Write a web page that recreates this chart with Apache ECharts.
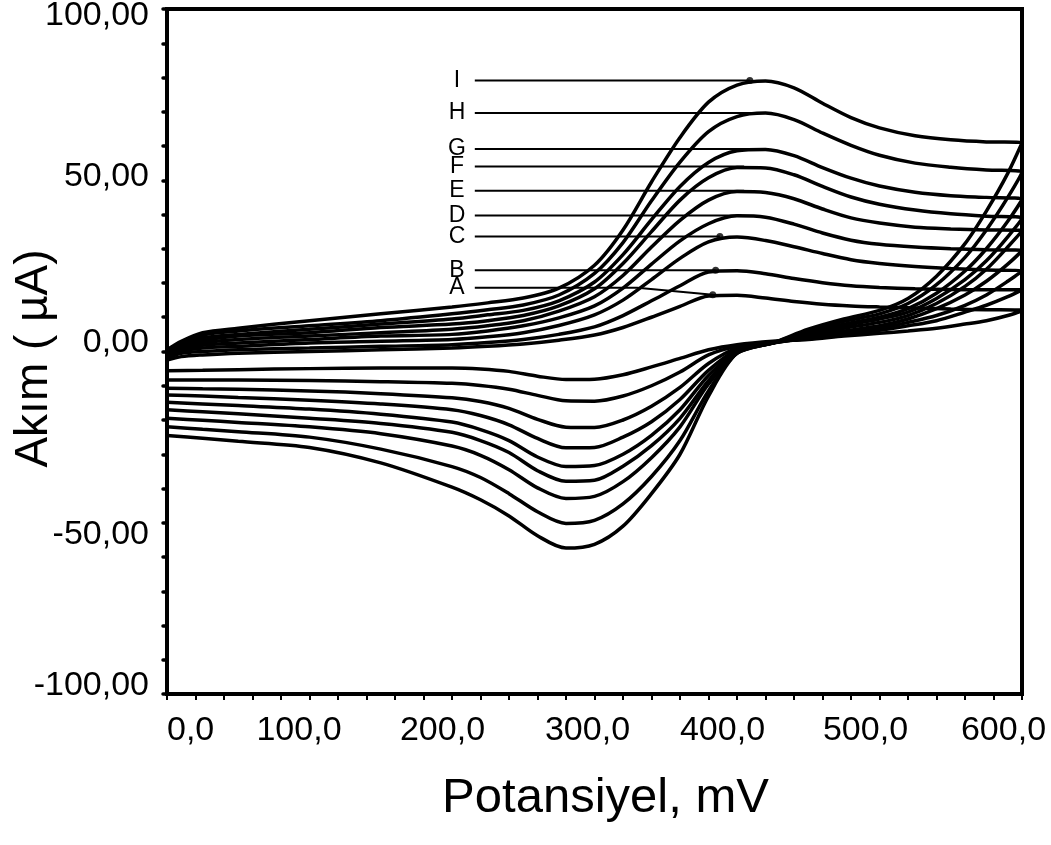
<!DOCTYPE html>
<html>
<head>
<meta charset="utf-8">
<script src="https://cdn.jsdelivr.net/npm/echarts@6/dist/echarts.min.js"></script>
<style>
html,body{margin:0;padding:0;background:#fff;}
#chart{width:1051px;height:845px;}
</style>
</head>
<body>
<div id="chart"></div>
<script>
// Potential grids (mV)
const potentialFwd = [0, 10, 25, 50, 100, 150, 200, 225, 250, 275, 300, 320, 340, 360, 380, 400, 420, 440, 460, 480, 500, 525, 550, 575, 600];
const potentialRev = [590, 575, 560, 540, 520, 500, 475, 450, 425, 400, 380, 360, 340, 320, 300, 280, 260, 240, 220, 200, 150, 100, 50, 25, 0];

const curveNames = ['A', 'B', 'C', 'D', 'E', 'F', 'G', 'H', 'I'];

// Forward (anodic) scan currents, µA
const fwdA = [-2.5, -1.5, -1, -0.5, 0, 0.5, 1, 1.5, 2.2, 3.3, 4.8, 7, 10, 13.2, 16.2, 16.4, 15.6, 14.6, 13.8, 13.3, 13, 12.7, 12.4, 12.2, 12];
const fwdB = [-2, -0.5, 0, 0.5, 1, 1.5, 2, 2.6, 3.5, 5, 7.2, 10.5, 14.8, 19.2, 23.2, 23.6, 22.7, 21.3, 20.1, 19.2, 18.7, 18.3, 18.1, 18, 18];
const fwdC = [-1.5, 0, 1, 1.5, 2.5, 3, 3.5, 4.3, 5.5, 7.6, 10.7, 15, 21, 27.2, 32, 33.4, 32.4, 30.6, 28.6, 26.8, 25.7, 24.8, 24.2, 23.8, 23.5];
const fwdD = [-1, 0.5, 1.8, 2.5, 3.5, 4.5, 5, 6, 7.5, 9.8, 13.3, 18.5, 25.5, 32.3, 37.3, 39.6, 39.2, 37.2, 34.6, 32.5, 31.3, 30.5, 30, 29.7, 29.5];
const fwdE = [-1, 1, 2.5, 3.5, 4.5, 5.5, 6.5, 7.5, 9, 11.8, 16, 22.2, 30.5, 38.3, 44.2, 46.7, 46.4, 44.6, 41.6, 39, 37.5, 36.3, 35.8, 35.5, 35.3];
const fwdF = [-0.5, 1.5, 3.2, 4.5, 5.5, 7, 8, 9, 10.5, 13.3, 18.3, 25.7, 35, 44.2, 50.7, 53.7, 53.6, 51.6, 48.2, 45.1, 43, 41.3, 40.2, 39.5, 39];
const fwdG = [-0.5, 2, 4, 5, 6.5, 8, 9.5, 10.7, 12, 14.8, 20.3, 28.3, 38.5, 48.2, 55.2, 58.6, 59, 57.2, 53.7, 50.6, 48.3, 46.5, 45.5, 45, 44.5];
const fwdH = [0, 2.5, 4.8, 6, 7.5, 9, 11, 12.2, 13.6, 16.5, 22.8, 31.8, 44, 55.3, 64.2, 68.6, 69.6, 67.7, 63.8, 60.2, 57.3, 55, 53.8, 53, 52.5];
const fwdI = [0.5, 3, 5.5, 6.8, 9, 11, 13, 14.2, 15.6, 18.5, 25.2, 35.5, 49.5, 62.5, 72.8, 77.8, 79, 77, 72.5, 68.3, 65.3, 63, 61.8, 61.2, 61];

// Reverse (cathodic) scan currents, µA
const revA = [10.5, 9, 8, 6.8, 6, 5.3, 4.5, 3.5, 3, 2, 0.5, -2, -4.5, -6.8, -8.1, -8.2, -7.2, -5.8, -5.1, -4.8, -4.8, -5, -5.3, -5.5, -5.6];
const revB = [16, 13.5, 11.5, 9, 7.5, 6.2, 5, 3.8, 2.6, 1.5, -1, -6, -10, -13, -14.5, -14.4, -12.8, -11, -9.9, -9.3, -8.8, -8.5, -8.3, -8.3, -8.3];
const revC = [20.5, 16.5, 13.5, 10.5, 8.5, 6.8, 5.5, 4, 2.5, 1, -3.5, -10.5, -16, -20, -22.2, -22.1, -19.8, -16.6, -14.6, -13.5, -12.3, -11.5, -11, -10.9, -10.7];
const revD = [25.5, 20.5, 16.5, 12.5, 9.5, 7.5, 6, 4.2, 2.5, 0.5, -5.5, -14, -20.5, -25, -28, -28.1, -25.4, -21.4, -18.7, -17, -15.3, -14.2, -13.4, -13, -12.7];
const revE = [30.5, 24, 19, 14, 10.5, 8.5, 6.8, 4.6, 2.5, 0, -7, -17, -24.5, -30, -33.3, -33.6, -30.8, -26, -22.8, -20.6, -18.3, -16.8, -15.8, -15.3, -14.8];
const revF = [33.5, 26.5, 21, 15.5, 11.5, 9.5, 7.5, 5, 2.5, 0, -8.5, -19.5, -27.5, -33.5, -37.6, -37.9, -34.8, -29.5, -26, -23.6, -21, -19.5, -18.2, -17.6, -17];
const revG = [38, 30, 23.5, 17, 12.5, 10, 8, 5.5, 2.5, -0.5, -9.5, -22, -31, -38, -42.3, -42.9, -39.8, -34.5, -30.3, -27.6, -24, -22, -20.7, -20.1, -19.5];
const revH = [45, 35.5, 27.5, 19.5, 14, 11, 8.8, 6, 2.5, -0.5, -11.5, -26, -36.5, -44.5, -49.3, -50.2, -46.8, -41.5, -36.8, -33.6, -28.5, -25, -23.4, -22.7, -22];
const revI = [52, 41, 31.5, 22, 15.5, 12, 9.5, 6.5, 2.5, -0.5, -13, -30, -41.5, -51, -56.3, -57.4, -53.8, -48, -43.3, -39.6, -32.5, -28, -26.2, -25.3, -24.5];

// Peak annotations (leader lines)
const leaderNames = ['I', 'H', 'G', 'F', 'E', 'D', 'C', 'B', 'A'];
const leaderLevel = [79.1, 69.6, 59.1, 54.0, 46.9, 39.7, 33.6, 23.7, 18.6];
const leaderEndE = [409, 422, 417, 405, 405, 403, 388, 385, 383];
const leaderEndI = [79.1, 69.6, 59.1, 54.0, 46.9, 39.7, 33.6, 23.7, 16.6];
const leaderKinkE = [null, null, null, null, null, null, null, null, 330];
const leaderDot = [true, false, false, false, false, false, true, true, true];
const leaderStartE = 216;
const leaderTextE = 203.5;

// Axis tick labels
const xTickLabels = {0: '0,0', 100: '100,0', 200: '200,0', 300: '300,0', 400: '400,0', 500: '500,0', 600: '600,0'};
const yTickLabels = {'100': '100,00', '50': '50,00', '0': '0,00', '-50': '-50,00', '-100': '-100,00'};

const fwd = {A: fwdA, B: fwdB, C: fwdC, D: fwdD, E: fwdE, F: fwdF, G: fwdG, H: fwdH, I: fwdI};
const rev = {A: revA, B: revB, C: revC, D: revD, E: revE, F: revF, G: revG, H: revH, I: revI};

const FONT = 'Liberation Sans, Arial, sans-serif';
const series = [];

curveNames.forEach(function (n) {
  const data = [];
  potentialFwd.forEach(function (e, i) { data.push([e, fwd[n][i]]); });
  potentialRev.forEach(function (e, i) { data.push([e, rev[n][i]]); });
  series.push({
    name: n, type: 'line', data: data, showSymbol: false, symbol: 'none',
    smooth: 0.3, lineStyle: {color: '#000', width: 3.5}, z: 2, silent: true
  });
});

const labelData = [];
const dotData = [];
leaderNames.forEach(function (n, i) {
  const d = [[leaderStartE, leaderLevel[i]]];
  if (leaderKinkE[i] !== null) d.push([leaderKinkE[i], leaderLevel[i]]);
  d.push([leaderEndE[i], leaderEndI[i]]);
  series.push({
    type: 'line', data: d, symbol: 'none', smooth: false,
    lineStyle: {color: '#000', width: 2}, z: 3, silent: true
  });
  labelData.push([leaderTextE, leaderLevel[i], n]);
  if (leaderDot[i]) dotData.push([leaderEndE[i], leaderEndI[i]]);
});

series.push({
  type: 'scatter', data: labelData, symbol: 'circle', symbolSize: 1,
  itemStyle: {color: '#fff', opacity: 1},
  label: {show: true, position: 'inside', formatter: function (p) { return p.value[2]; },
    fontFamily: FONT, fontSize: 23, color: '#000', opacity: 1, textBorderWidth: 0},
  z: 4, silent: true
});
series.push({
  type: 'scatter', data: dotData, symbolSize: 7, itemStyle: {color: '#000'}, z: 4, silent: true
});

function tok(pad) { return {fontFamily: FONT, fontSize: 34, color: '#000', padding: pad}; }

const option = {
  animation: false,
  backgroundColor: '#fff',
  grid: {left: 167, right: 29, top: 9, bottom: 151, containLabel: false, outerBoundsMode: 'none',
    show: true, borderColor: '#000', borderWidth: 4, backgroundColor: 'transparent'},
  xAxis: {
    type: 'value', min: 0, max: 600, interval: 20,
    axisLine: {show: true, onZero: false, lineStyle: {color: '#000', width: 4}},
    axisTick: {show: true, length: 6, lineStyle: {color: '#000', width: 2}},
    splitLine: {show: false},
    axisLabel: {
      show: true, fontFamily: FONT, fontSize: 34, color: '#000', margin: 20,
      alignMinLabel: 'left', showMinLabel: true, showMaxLabel: true, hideOverlap: false,
      formatter: function (v) { return xTickLabels[v] !== undefined ? '{x' + v + '|' + xTickLabels[v] + '}' : ''; },
      rich: {
        x0: tok([0, 0, 0, 0]), x100: tok([0, 21, 0, 0]), x200: tok([0, 19, 0, 0]), x300: tok([0, 14, 0, 0]),
        x400: tok([0, 29, 0, 0]), x500: tok([0, 28, 0, 0]), x600: tok([0, 37, 0, 0])
      }
    },
    name: 'Potansiyel, mV', nameLocation: 'middle', nameGap: 80, nameMoveOverlap: false,
    nameTextStyle: {fontFamily: FONT, fontSize: 49, color: '#000', padding: [0, 0, 0, 22]}
  },
  yAxis: {
    type: 'value', min: -100, max: 100, interval: 10,
    axisLine: {show: true, onZero: false, lineStyle: {color: '#000', width: 4}},
    axisTick: {show: true, length: 4, lineStyle: {color: '#000', width: 3.5, cap: 'round'}},
    splitLine: {show: false},
    axisLabel: {
      show: true, fontFamily: FONT, fontSize: 34, color: '#000', margin: 18, hideOverlap: false,
      formatter: function (v) {
        const k = String(v);
        if (yTickLabels[k] === undefined) return '';
        return '{y' + k.replace('-', 'm') + '|' + yTickLabels[k] + '}';
      },
      rich: {
        y100: tok([13, 0, 0, 0]), y50: tok([0, 0, 8, 0]), y0: tok([0, 0, 18, 0]),
        ym50: tok([24, 0, 0, 0]), ym100: tok([0, 0, 16, 0])
      }
    },
    name: 'Akım ( µA)', nameLocation: 'middle', nameGap: 110, nameRotate: 90, nameMoveOverlap: false,
    nameTextStyle: {fontFamily: FONT, fontSize: 46, color: '#000', padding: [0, 14, 0, 0]}
  },
  series: series
};

const chart = echarts.init(document.getElementById('chart'), null, {renderer: 'canvas'});
chart.setOption(option);
</script>
</body>
</html>
